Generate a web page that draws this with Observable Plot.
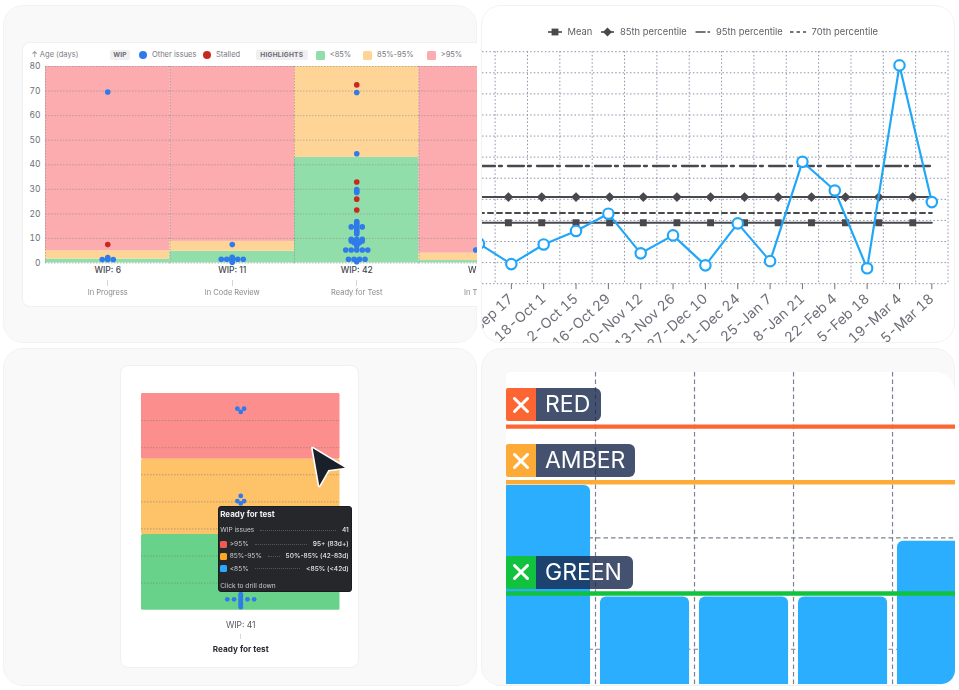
<!DOCTYPE html>
<html>
<head>
<meta charset="utf-8">
<script src="https://cdn.jsdelivr.net/npm/d3@7"></script>
<script src="https://cdn.jsdelivr.net/npm/@observablehq/plot@0.6"></script>
<style>
  html, body { margin: 0; padding: 0; background: #fff; }
  #page { position: relative; width: 959px; height: 690px; overflow: hidden; font-family: Inter, "Noto Sans", sans-serif; filter: blur(0.3px); }
  .abs { position: absolute; }
  .card { position: absolute; box-sizing: border-box; overflow: hidden; }
  .outer { border: 1px solid #f2f2f2; border-radius: 20px; background: #f9f9f9; }
  .lab { position: absolute; white-space: nowrap; line-height: 1; transform: translateY(-50%); }
  .chip { position: absolute; background: #f0f0f2; color: #6b6b73; font-weight: 700; font-size: 6.6px; border-radius: 2px; height: 10px; line-height: 10px; text-align: center; letter-spacing: .2px; }
  .sw { position: absolute; border-radius: 1.5px; }
  .row { position: absolute; left: 1.5px; right: 2.5px; display: flex; align-items: center; font-size: 6.6px; color: #c9c9ce; height: 9px; white-space: nowrap; }
  .row .lead { flex: 1; border-bottom: 1px dotted #55565c; margin: 0 6px; }
  .row .val { color: #e8e8ea; font-weight: 500; }
  .row i { display: inline-block; width: 7px; height: 7px; border-radius: 1.5px; margin-right: 2.5px; }
  .tag { position: absolute; left: 506px; height: 33px; display: flex; color: #fff; font-size: 23px; line-height: 33px; }
  .tag .x { width: 29.5px; height: 33px; display: flex; align-items: center; justify-content: center; border-radius: 2px 0 0 2px; }
  .tag .t { height: 33px; background: rgba(25,42,77,.81); border-radius: 0 6px 6px 0; box-sizing: border-box; padding-left: 9.5px; }
</style>
</head>
<body>
<div id="page"></div>
<script>
// ---------- top-left: ageing WIP by column ----------
const flowColumns = ["In Progress", "In Code Review", "Ready for Test", "In Testing"];
const flowWip = [6, 11, 42, 5];
const flowGreenTop = [1.6, 4.8, 43, 1];
const flowAmberTop = [5, 8.8, 80, 4];
const flowRedTop = [80, 80, 80, 80];
const flowOther = [
  [69.6, 1.4, 1.4, 1.4, 2.2],
  [7.5, 1.5, 1.5, 1.5, 1.5, 1.5, 2.3, 0.3, 2, 1, 1.1],
  [69.4, 44.5, 29.9, 29.3, 28.7, 16.9, 16.2, 15.5, 14.7, 14.7, 14.7, 13.9, 13.2, 12.5, 11.8,
   9.6, 9.6, 9.6, 9, 9, 9, 8.3, 8.3, 7.6, 7, 5.3, 5.3, 5.3, 5.3, 5.3, 1.5, 1.5, 1.5, 1.5, 1, 0.5],
  [5.3, 5.3, 5.3, 1.2, 0.8]
];
const flowStalled = [[7.5], [], [72.5, 33, 26, 21.6], []];
const flowBands = ["<85%", "85%-95%", ">95%"];
const flowBandColors = ["#92deab", "#fed596", "#fcabae"];
const statusNames = ["Other issues", "Stalled"];
const statusColors = ["#2f7bea", "#c9281f"];

// ---------- top-right: control chart ----------
const periodLabels = ["4-Sep 17", "18-Oct 1", "2-Oct 15", "16-Oct 29", "30-Nov 12", "13-Nov 26", "27-Dec 10",
  "11-Dec 24", "25-Jan 7", "8-Jan 21", "22-Feb 4", "5-Feb 18", "19-Mar 4", "5-Mar 18"];
const periodIndex = [-1, 0, 1, 2, 3, 4, 5, 6, 7, 8, 9, 10, 11, 12, 13];
const periodValues = [19, 9.3, 18.6, 25, 33.2, 14.4, 22.9, 8.7, 28.6, 10.7, 57.8, 44.2, 7.3, 103.5, 38.7];
const markerIndex = [-0.09, 0.94, 2.0, 3.04, 4.08, 5.12, 6.16, 7.21, 8.25, 9.28, 10.33, 11.36, 12.41];
const meanLevel = 28.9;
const p85Level = 41.1;
const p95Level = 55.8;
const p70Level = 33.5;

// ---------- bottom-left: single column detail ----------
const detailBands = [">95%", "85%-95%", "<85%"];
const detailLower = [55.7, 27.9, 0];
const detailUpper = [80, 55.7, 27.9];
const detailColors = ["#fd8e8e", "#fec269", "#68d28a"];
const detailAges = [74.4, 74.4, 73.2, 42.2, 40.3, 40.3, 39.4,
  5.9, 5.3, 4.7, 4, 4, 4, 4, 4, 3.4, 2.8, 2.2, 1.6, 1.1];

// ---------- bottom-right: thresholds over bars ----------
const barIndex = [0, 1, 2, 3, 4];
const barValues = [24.7, 14.7, 14.7, 14.7, 19.7];
const thresholdNames = ["RED", "AMBER", "GREEN"];
const thresholdValues = [30, 25, 15];
const thresholdColors = ["#fd6633", "#fdab36", "#10c23d"];

const page = document.getElementById("page");

function box(cls, x, y, w, h, css = "") {
  const el = document.createElement("div");
  el.className = cls;
  el.style.cssText = `left:${x}px;top:${y}px;width:${w}px;height:${h}px;${css}`;
  page.appendChild(el);
  return el;
}
function label(text, x, y, css = "") {
  const el = document.createElement("div");
  el.className = "lab";
  el.textContent = text;
  el.style.cssText = `left:${x}px;top:${y}px;${css}`;
  page.appendChild(el);
  return el;
}
function chip(text, x, w, y) {
  const el = document.createElement("div");
  el.className = "chip";
  el.textContent = text;
  el.style.cssText = `left:${x}px;top:${y}px;width:${w}px;`;
  page.appendChild(el);
}
function svgAt(x, y, w, h, inner) {
  const d = document.createElement("div");
  d.className = "abs";
  d.style.cssText = `left:${x}px;top:${y}px;width:${w}px;height:${h}px;`;
  d.innerHTML = `<svg width="${w}" height="${h}" viewBox="0 0 ${w} ${h}" style="display:block;overflow:visible">${inner}</svg>`;
  page.appendChild(d);
}
const plotStyle = (size) => ({ background: "transparent", maxWidth: "none", fontFamily: "Inter, sans-serif", fontSize: size + "px", overflow: "visible" });

// lateral lanes: issues of the same age sit side by side, centred
function lanes(ages) {
  const groups = d3.group(ages, (d) => d.age);
  const out = [];
  for (const g of groups.values()) g.forEach((d, i) => out.push({ ...d, lane: i - (g.length - 1) / 2 }));
  return out;
}

// ===== Outer cards =====
box("card outer", 3, 5, 474, 338);
box("card outer", 481, 5, 474, 338, "background:#fff");
box("card outer", 3, 348, 474, 338);
box("card outer", 481, 348, 474, 338);

// ===== Panel 1 =====
const p1 = box("card", 22, 42, 455, 265, "background:#fff;border:1px solid #f0f0f0;border-right:none;border-radius:8px 0 0 8px;");
const flowRows = flowColumns.map((col, i) => ({ col, label: "WIP: " + flowWip[i] }));
const flowRects = flowColumns.flatMap((col, i) => [
  { col, band: flowBands[0], lo: 0, hi: flowGreenTop[i] },
  { col, band: flowBands[1], lo: flowGreenTop[i], hi: flowAmberTop[i] },
  { col, band: flowBands[2], lo: flowAmberTop[i], hi: flowRedTop[i] }
]);
const flowDots = flowColumns.flatMap((col, i) => lanes([
  ...flowOther[i].map((age) => ({ col, age, status: statusNames[0] })),
  ...flowStalled[i].map((age) => ({ col, age, status: statusNames[1] }))
]));
p1.appendChild(Plot.plot({
  width: 520, height: 264,
  marginLeft: 22, marginRight: 0, marginTop: 23, marginBottom: 44.5,
  style: plotStyle(8.5),
  fx: { domain: flowColumns, padding: 0, round: false, axis: null },
  x: { domain: [-11.3, 11.3], axis: null },
  y: { domain: [0, 80], axis: null },
  color: { domain: [...flowBands, ...statusNames], range: [...flowBandColors, ...statusColors] },
  marks: [
    Plot.rectY(flowRects, { fx: "col", y1: "lo", y2: "hi", fill: "band" }),
    Plot.gridY({ ticks: d3.range(0, 81, 10), stroke: "#8d8d8d", strokeOpacity: 0.55, strokeDasharray: "1.5 1.5" }),
    Plot.ruleX([-11.3], { stroke: "#8d8d8d", strokeOpacity: 0.6, strokeDasharray: "1.5 1.5" }),
    Plot.axisY({ ticks: d3.range(0, 81, 10), tickSize: 0, tickPadding: 5, label: null, color: "#6f6f76", anchor: "left" }),
    Plot.dot(flowDots.filter((d) => d.status === statusNames[0]), { fx: "col", x: "lane", y: "age", r: 2.8, fill: "status" }),
    Plot.dot(flowDots.filter((d) => d.status === statusNames[1]), { fx: "col", x: "lane", y: "age", r: 2.8, fill: "status" }),
    Plot.text(flowRows, { fx: "col", text: "label", frameAnchor: "bottom", dy: 10, fontSize: 8.5, fontWeight: 500, fill: "#45454d" }),
    Plot.text(flowRows, { fx: "col", text: () => "|", frameAnchor: "bottom", dy: 22, fontSize: 5, fill: "#9a9aa0" }),
    Plot.text(flowRows, { fx: "col", text: "col", frameAnchor: "bottom", dy: 32, fontSize: 7.5, fill: "#8a8a90" })
  ]
}));
label("↑ Age (days)", 31.5, 55, "font-size:7.5px;color:#7b7b82;");
chip("WIP", 110, 20, 50);
box("sw", 139, 51, 8, 8, `border-radius:50%;background:${statusColors[0]}`);
label(statusNames[0], 152, 55, "font-size:7.5px;color:#77777e;");
box("sw", 203, 51, 8, 8, `border-radius:50%;background:${statusColors[1]}`);
label(statusNames[1], 216, 55, "font-size:7.5px;color:#77777e;");
chip("HIGHLIGHTS", 256, 51.5, 50);
[[315.7, 329.7], [363, 377], [426.7, 440.7]].forEach(([a, b], i) => {
  box("sw", a, 50.5, 9, 9, `background:${flowBandColors[i]}`);
  label(flowBands[i], b, 55, "font-size:7.5px;color:#77777e;");
});

// ===== Panel 2 =====
const p2 = box("card", 481.5, 5.5, 473.5, 337, "border-radius:20px;");
const periodRows = periodIndex.map((i, k) => ({ i, v: periodValues[k] }));
const darkLine = "#48484f";
const xEnds = [-1, 13];
p2.appendChild(Plot.plot({
  width: 473.5, height: 337,
  marginLeft: 0, marginRight: 8, marginTop: 45.2, marginBottom: 59.8,
  style: plotStyle(14),
  x: { domain: [-0.891, 13.5], axis: null },
  y: { domain: [0, 110], axis: null },
  marks: [
    Plot.ruleY(d3.range(0, 111, 10), { stroke: "#8e93ab", strokeDasharray: "1.5 2.2" }),
    Plot.ruleX(d3.range(-0.5, 13.6, 1), { stroke: "#8e93ab", strokeDasharray: "1.5 2.2" }),
    Plot.axisX({ ticks: d3.range(0, 14), tickFormat: (i) => periodLabels[i], tickRotate: -42, tickSize: 6, tickPadding: 7, label: null, color: "#6d7079", anchor: "bottom" }),
    Plot.line(xEnds, { x: (d) => d, y: () => meanLevel, stroke: darkLine, strokeWidth: 2, clip: true }),
    Plot.dot(markerIndex, { x: (d) => d, y: () => meanLevel, symbol: "square", r: 3.9, fill: darkLine }),
    Plot.line(xEnds, { x: (d) => d, y: () => p85Level, stroke: darkLine, strokeWidth: 2, clip: true }),
    Plot.dot(markerIndex, { x: (d) => d, y: () => p85Level, symbol: "diamond2", r: 4.4, fill: darkLine }),
    Plot.line(xEnds, { x: (d) => d, y: () => p95Level, stroke: darkLine, strokeWidth: 2.3, strokeDasharray: "16 4 3 6", clip: true }),
    Plot.line(xEnds, { x: (d) => d, y: () => p70Level, stroke: darkLine, strokeWidth: 2, strokeDasharray: "5 4", clip: true }),
    Plot.line(periodRows, { x: "i", y: "v", stroke: "#22a7f8", strokeWidth: 2.2, curve: "linear", clip: true }),
    Plot.dot(periodRows, { x: "i", y: "v", r: 5.2, fill: "#fff", stroke: "#22a7f8", strokeWidth: 2.2, clip: true })
  ]
}));
const lg = "font-size:9.4px;color:#5d5d66;";
label("Mean", 567.5, 32, lg);
label("85th percentile", 620, 32, lg);
label("95th percentile", 716, 32, lg);
label("70th percentile", 811.5, 32, lg);
svgAt(548, 25, 340, 14, `
  <g stroke="${darkLine}" fill="${darkLine}" stroke-width="1.6">
    <line x1="0" x2="14" y1="7" y2="7"/><rect x="3.6" y="3.6" width="6.8" height="6.8" stroke="none"/>
    <line x1="53" x2="66" y1="7" y2="7"/><path d="M59.5 2.6 L64 7 L59.5 11.4 L55 7 Z" stroke="none"/>
    <line x1="147.5" x2="162" y1="7" y2="7" stroke-dasharray="10 2 2.5 2"/>
    <line x1="242" x2="258" y1="7" y2="7" stroke-dasharray="3.5 3"/>
  </g>`);

// ===== Panel 3 =====
box("card", 120, 365, 239, 302.5, "background:#fff;border:1px solid #f0f0f0;border-radius:8px;");
const p3 = box("card", 140.5, 393.3, 198.5, 275, "overflow:visible;");
const detailRows = detailBands.map((band, i) => ({ band, lo: detailLower[i], hi: detailUpper[i] }));
const detailDots = lanes(detailAges.map((age) => ({ age })));
p3.appendChild(Plot.plot({
  width: 198.5, height: 276.7,
  marginLeft: 0, marginRight: 0, marginTop: 0, marginBottom: 60,
  style: plotStyle(8.5),
  x: { domain: [-14.8, 14.8], axis: null },
  y: { domain: [0, 80], axis: null },
  color: { domain: detailBands, range: detailColors },
  marks: [
    Plot.rectY(detailRows, { y1: "lo", y2: "hi", fill: "band", rx: 1.5 }),
    Plot.ruleY(d3.range(10, 71, 10), { stroke: "#7a7a7a", strokeOpacity: 0.55, strokeDasharray: "1.5 1.5" }),
    Plot.dot(detailDots, { x: "lane", y: "age", r: 2.4, fill: statusColors[0] }),
    Plot.text(["WIP: 41"], { text: (d) => d, frameAnchor: "bottom", dy: 18, fontSize: 8.5, fill: "#55555d" }),
    Plot.text(["|"], { text: (d) => d, frameAnchor: "bottom", dy: 28, fontSize: 4.5, fill: "#9a9aa0" }),
    Plot.text(["Ready for test"], { text: (d) => d, frameAnchor: "bottom", dy: 41.5, fontSize: 8.2, fontWeight: 700, fill: "#2b2b33" })
  ]
}));
// tooltip
const tip = box("card", 217.7, 506, 134.6, 85.7, "background:#26272b;border-radius:3px;border:1px solid #1b1c1f;");
tip.innerHTML = `
  <div class="row" style="top:2.5px;color:#f0f0f2;font-weight:700;font-size:8px;">Ready for test</div>
  <div class="row" style="top:18.5px;"><span>WIP issues</span><span class="lead"></span><span class="val">41</span></div>
  <div class="row" style="top:32.5px;"><i style="background:#ef5a55"></i><span>&gt;95%</span><span class="lead"></span><span class="val">95+ (83d+)</span></div>
  <div class="row" style="top:44.5px;"><i style="background:#f9a825"></i><span>85%-95%</span><span class="lead"></span><span class="val">50%-85% (42-83d)</span></div>
  <div class="row" style="top:57px;"><i style="background:#2aa8fb"></i><span>&lt;85%</span><span class="lead"></span><span class="val">&lt;85% (&lt;42d)</span></div>
  <div class="row" style="top:74.5px;">Click to drill down</div>`;
// pointer
svgAt(305, 441, 50, 52, `<path d="M7.7 7.3 L40 26.7 L23.3 29 L14.3 44.7 Z" fill="#1a2029" stroke="#fff" stroke-width="3.2" stroke-linejoin="round" paint-order="stroke"/>`);

// ===== Panel 4 =====
const p4 = box("card", 506, 372, 449, 312, "background:#fff;border-radius:5px 20px 14px 0;");
const barRows = barIndex.map((i) => ({ i, v: barValues[i] }));
const gaps = barIndex.slice(0, 4);
p4.appendChild(Plot.plot({
  width: 449, height: 388,
  marginLeft: 0, marginRight: 0, marginTop: 0, marginBottom: 0,
  style: plotStyle(10),
  x: { domain: [-0.399, 4.136], axis: null },
  y: { domain: [0, 34.86], axis: null },
  color: { domain: thresholdNames, range: thresholdColors },
  marks: [
    Plot.ruleY([10, 20], { stroke: "#7b8197", strokeWidth: 1.1, strokeDasharray: "4.5 3" }),
    Plot.ruleX(gaps, { x: (d) => d + 0.5, stroke: "#7b8197", strokeWidth: 1.2, strokeDasharray: "4.5 3" }),
    Plot.rectY(barRows, { x1: (d) => d.i - 0.45, x2: (d) => d.i + 0.45, y1: 0, y2: "v", fill: "#2baefd", rx: 6 }),
    Plot.ruleY(thresholdNames.map((name, i) => ({ name, v: thresholdValues[i] })), { y: "v", stroke: "name", strokeWidth: 4.4 })
  ]
}));
[[388.3, 65], [444, 99.5], [555.7, 97.5]].forEach(([y, w], i) => {
  const t = document.createElement("div");
  t.className = "tag";
  t.style.top = y + "px";
  t.innerHTML = `<div class="x" style="background:${thresholdColors[i]}"><svg width="16" height="16" viewBox="0 0 16 16"><path d="M1.5 1.5 L14.5 14.5 M14.5 1.5 L1.5 14.5" stroke="#fff" stroke-width="3" stroke-linecap="round"/></svg></div><div class="t" style="width:${w}px">${thresholdNames[i]}</div>`;
  page.appendChild(t);
});
</script>
</body>
</html>
